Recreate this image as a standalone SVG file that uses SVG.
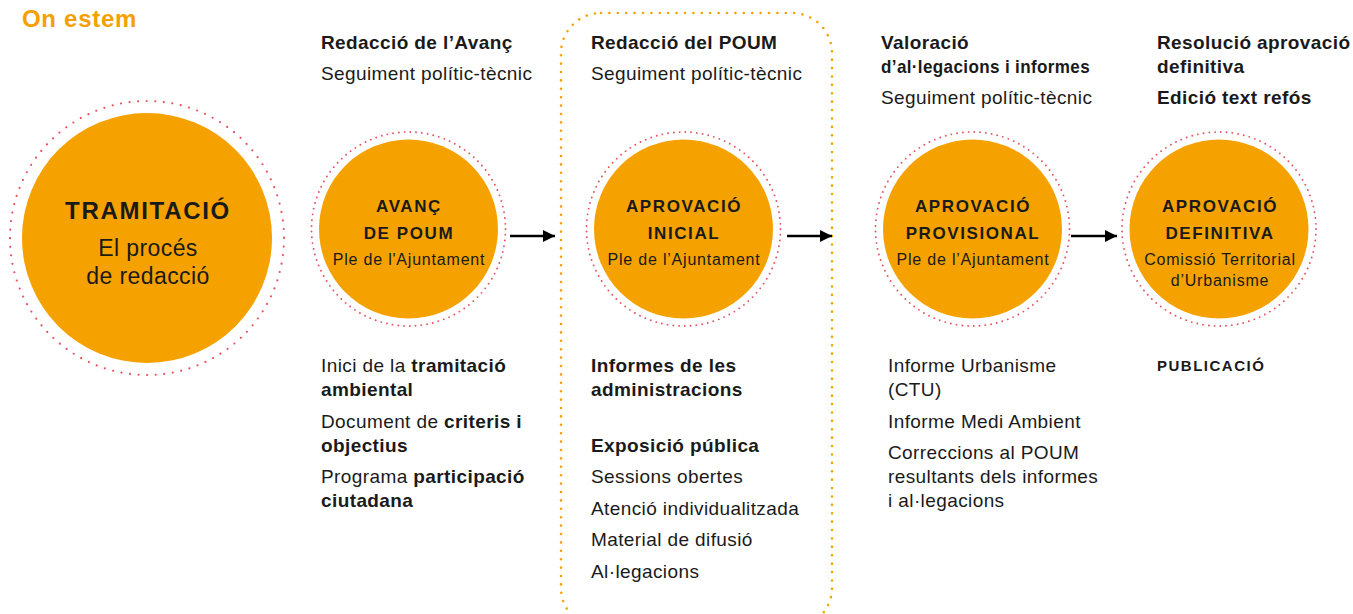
<svg xmlns="http://www.w3.org/2000/svg" width="1353" height="614" viewBox="0 0 1353 614">
<style>
text{font-family:"Liberation Sans",Arial,sans-serif;fill:#1a1a1a}
.t{font-size:19px;letter-spacing:0.4px}
.b{font-weight:bold}
.c{text-anchor:middle}
.cap{font-size:17px;font-weight:bold;letter-spacing:1.6px}
.sub{font-size:16px;letter-spacing:0.8px}
.disc{fill:#f5a200}
.ring{fill:none;stroke:#e8505b;stroke-width:1.9;stroke-linecap:round;stroke-dasharray:0 5.8}
.ringb{fill:none;stroke:#e8505b;stroke-width:2.2;stroke-linecap:round;stroke-dasharray:0 8.6}
.frame{fill:none;stroke:#f5a200;stroke-width:2.6;stroke-linecap:round;stroke-dasharray:0 8.4}
.arr{stroke:#000;stroke-width:2.5;fill:none}
</style>
<defs>
<marker id="ah" viewBox="0 0 10 10" refX="10" refY="5" markerWidth="16" markerHeight="12" markerUnits="userSpaceOnUse" orient="auto">
<path d="M0,0 L10,5 L0,10 Z" fill="#000"/>
</marker>
</defs>
<rect width="1353" height="614" fill="#fff"/>
<text x="22" y="27" class="b" style="font-size:24px;letter-spacing:0.7px;fill:#f5a000">On estem</text>
<rect id="frame" class="frame" x="561" y="13" width="271" height="615" rx="40"/>
<g id="n-tramitacio">
<circle class="ringb" cx="147" cy="238" r="137"/>
<circle class="disc" cx="147" cy="238" r="125"/>
<text x="148" y="219" class="c b" style="font-size:24px;letter-spacing:1.7px">TRAMITACIÓ</text>
<text x="148" y="256" class="c" style="font-size:23px;letter-spacing:0.4px">El procés</text>
<text x="148" y="284" class="c" style="font-size:23px;letter-spacing:0.4px">de redacció</text>
</g>
<g id="n-avanc">
<circle class="ring" cx="408.5" cy="229" r="97"/>
<circle class="disc" cx="408.5" cy="229" r="89.5"/>
<text x="409" y="212" class="c cap">AVANÇ</text>
<text x="409" y="239" class="c cap">DE POUM</text>
<text x="409" y="265" class="c sub">Ple de l'Ajuntament</text>
</g>
<g id="n-inicial">
<circle class="ring" cx="683.5" cy="229" r="97"/>
<circle class="disc" cx="683.5" cy="229" r="89.5"/>
<text x="684" y="212" class="c cap">APROVACIÓ</text>
<text x="684" y="239" class="c cap">INICIAL</text>
<text x="684" y="265" class="c sub">Ple de l’Ajuntament</text>
</g>
<g id="n-provisional">
<circle class="ring" cx="972.5" cy="229" r="97"/>
<circle class="disc" cx="972.5" cy="229" r="89.5"/>
<text x="973" y="212" class="c cap">APROVACIÓ</text>
<text x="973" y="239" class="c cap">PROVISIONAL</text>
<text x="973" y="265" class="c sub">Ple de l’Ajuntament</text>
</g>
<g id="n-definitiva">
<circle class="ring" cx="1219" cy="229" r="97"/>
<circle class="disc" cx="1219" cy="229" r="89.5"/>
<text x="1220" y="212" class="c cap">APROVACIÓ</text>
<text x="1220" y="239" class="c cap">DEFINITIVA</text>
<text x="1220" y="265" class="c sub">Comissió Territorial</text>
<text x="1220" y="286" class="c sub">d’Urbanisme</text>
</g>
<g id="connectors">
<line class="arr" x1="510" y1="236" x2="555" y2="236" marker-end="url(#ah)"/>
<line class="arr" x1="787" y1="236" x2="832" y2="236" marker-end="url(#ah)"/>
<line class="arr" x1="1071" y1="236" x2="1117" y2="236" marker-end="url(#ah)"/>
</g>
<g id="top-labels" class="t">
<text x="321" y="49" class="b">Redacció de l’Avanç</text>
<text x="321" y="80">Seguiment polític-tècnic</text>
<text x="591" y="49" class="b">Redacció del POUM</text>
<text x="591" y="80">Seguiment polític-tècnic</text>
<text x="881" y="49" class="b">Valoració</text>
<text x="881" y="73" class="b" textLength="209" lengthAdjust="spacingAndGlyphs">d’al·legacions i informes</text>
<text x="881" y="104">Seguiment polític-tècnic</text>
<text x="1157" y="49" class="b">Resolució aprovació</text>
<text x="1157" y="73" class="b">definitiva</text>
<text x="1157" y="104" class="b">Edició text refós</text>
</g>
<g id="bottom-labels" class="t">
<text x="321" y="372">Inici de la <tspan class="b">tramitació</tspan></text>
<text x="321" y="396" class="b">ambiental</text>
<text x="321" y="428">Document de <tspan class="b">criteris i</tspan></text>
<text x="321" y="452" class="b">objectius</text>
<text x="321" y="483">Programa <tspan class="b">participació</tspan></text>
<text x="321" y="507" class="b">ciutadana</text>
<text x="591" y="372" class="b">Informes de les</text>
<text x="591" y="396" class="b">administracions</text>
<text x="591" y="452" class="b">Exposició pública</text>
<text x="591" y="483">Sessions obertes</text>
<text x="591" y="515">Atenció individualitzada</text>
<text x="591" y="546">Material de difusió</text>
<text x="591" y="578">Al·legacions</text>
<text x="888" y="372">Informe Urbanisme</text>
<text x="888" y="396">(CTU)</text>
<text x="888" y="428">Informe Medi Ambient</text>
<text x="888" y="459">Correccions al POUM</text>
<text x="888" y="483">resultants dels informes</text>
<text x="888" y="507">i al·legacions</text>
<text x="1157" y="371" class="b" style="font-size:15px;letter-spacing:1.5px">PUBLICACIÓ</text>
</g>
</svg>
